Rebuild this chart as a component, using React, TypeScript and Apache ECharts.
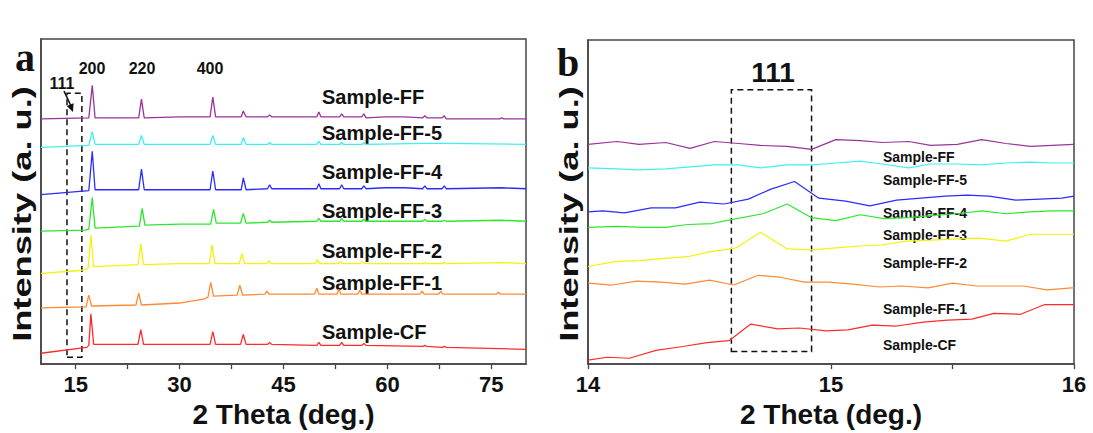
import React, { useEffect, useRef } from "react";
import * as echarts from "echarts";

const FONT = "'Liberation Sans', Arial, sans-serif";

// Panel a: 2 Theta (deg.) vs intensity (arbitrary offset units)
const aLabelValues = [15, 30, 45, 60, 75];
const aTickValues = [15, 22.5, 30, 37.5, 45, 52.5, 60, 67.5, 75];

const aCF = [[10,11],[16.6,17],[16.9,19],[17.2,51],[17.6,20],[24.0,20],[24.4,35],[24.8,20],[30,20],[34.4,20],[34.8,33],[35.2,20],[38.8,20],[39.2,30],[39.6,20],[42.7,20],[43.0,22],[43.3,20],[49.8,19],[50.1,22],[50.4,19],[53.1,19],[53.4,22],[53.7,19],[56.3,19],[56.6,21],[56.9,19],[65.1,18],[65.4,19],[65.7,18],[67.9,17],[68.2,18],[68.5,17],[80,15]];
const aFF1 = [[10,57],[16.5,58],[16.9,70],[17.3,59],[23.7,60],[24.1,72],[24.5,60],[30,62],[33.5,66],[34.1,68],[34.5,83],[34.9,69],[38.3,70],[38.7,80],[39.1,70],[42.3,71],[42.6,74],[42.9,71],[49.5,71],[49.8,77],[50.1,71],[52.7,71],[53.0,76],[53.3,71],[55.7,71],[56.0,75],[56.3,71],[64.7,71],[65.0,74],[65.3,71],[67.4,71],[67.7,74],[68.0,71],[75.7,71],[76.0,73],[76.3,71],[80,71]];
const aFF2 = [[10,92],[15.6,95],[16.8,97],[17.2,131],[17.6,99],[24.0,101],[24.4,122],[24.8,101],[30,102],[34.3,102],[34.7,121],[35.1,102],[38.6,102],[39.0,112],[39.4,102],[42.6,102],[42.9,105],[43.2,102],[49.6,102],[49.9,106],[50.2,102],[52.9,102],[53.2,104],[53.5,102],[56.1,102],[56.4,104],[56.7,102],[65.1,102],[65.4,103],[65.7,102],[67.9,102],[68.2,103],[68.5,102],[76.5,103],[80,102]];
const aFF3 = [[10,135],[16.4,136],[16.9,137],[17.4,169],[17.8,138],[24.2,140],[24.6,158],[25.0,141],[30,142],[34.5,142],[34.9,157],[35.3,143],[38.8,143],[39.2,153],[39.6,143],[42.7,144],[43.0,146],[43.3,144],[49.8,145],[50.1,148],[50.4,145],[53.1,145],[53.4,148],[53.7,145],[56.3,145],[56.6,147],[56.9,145],[65.1,145],[65.4,147],[65.7,145],[67.9,145],[68.2,146],[68.5,145],[76.5,146],[80,145]];
const aFF4 = [[10,172],[16.9,176],[17.4,216],[17.8,177],[24.1,177],[24.5,198],[24.9,177],[30,177],[34.4,177],[34.8,196],[35.2,177],[38.9,177],[39.2,189],[39.6,177],[42.7,178],[43.0,182],[43.3,178],[49.8,178],[50.1,183],[50.4,178],[53.1,178],[53.4,182],[53.7,178],[56.3,178],[56.6,181],[56.9,178],[59.6,179],[62.5,179],[65.1,178],[65.4,181],[65.7,178],[67.9,178],[68.2,181],[68.5,178],[76.5,179],[80,178]];
const aFF5 = [[10,220],[16.9,222],[17.4,236],[17.8,223],[24.1,223],[24.5,232],[24.9,223],[34.4,223],[34.8,232],[35.2,223],[38.9,223],[39.2,230],[39.6,223],[42.7,223],[43.0,225],[43.3,223],[49.8,223],[50.1,226],[50.4,223],[53.1,223],[53.4,225],[53.7,223],[56.3,223],[56.6,225],[56.9,223],[65.4,224],[68.2,224],[80,223]];
const aFF = [[10,249],[16.9,250],[17.4,283],[17.8,250],[24.1,250],[24.5,269],[24.9,250],[30,251],[34.4,251],[34.8,271],[35.2,251],[38.9,251],[39.2,257],[39.6,251],[42.7,251],[43.0,253],[43.3,251],[49.8,251],[50.1,256],[50.4,251],[53.1,251],[53.4,254],[53.7,251],[56.3,251],[56.6,254],[56.9,250],[59.6,251],[62.5,251],[65.1,250],[65.4,252],[65.7,250],[67.9,250],[68.2,252],[68.5,249],[76.2,249],[76.5,250],[76.8,249],[80,249]];

// Panel b: zoom on the (111) reflection
const bLabelValues = [14, 15, 16];
const bCF = [[14.0,4],[14.08,7],[14.17,6],[14.28,14],[14.39,18],[14.49,22],[14.58,24],[14.67,41],[14.78,36],[14.87,37],[14.98,34],[15.07,35],[15.17,40],[15.27,39],[15.38,43],[15.48,45],[15.58,46],[15.67,52],[15.78,51],[15.88,61],[15.99,61],[16.0,61]];
const bFF1 = [[14.0,83],[14.1,81],[14.2,85],[14.3,84],[14.4,82],[14.5,86],[14.6,81],[14.7,91],[14.79,89],[14.89,84],[14.99,84],[15.09,82],[15.2,79],[15.29,80],[15.4,78],[15.5,83],[15.6,80],[15.7,80],[15.79,80],[15.89,76],[15.99,78],[16.0,78]];
const bFF2 = [[14.0,100],[14.11,105],[14.21,106],[14.3,108],[14.41,110],[14.5,115],[14.61,119],[14.71,135],[14.82,118],[14.92,117],[15.02,119],[15.12,121],[15.21,122],[15.31,126],[15.41,127],[15.5,128],[15.61,129],[15.72,126],[15.82,133],[15.91,133],[16.0,133]];
const bFF3 = [[14.0,140],[14.12,141],[14.23,140],[14.32,140],[14.41,143],[14.51,144],[14.59,148],[14.72,154],[14.82,164],[14.92,150],[15.02,147],[15.12,153],[15.22,149],[15.32,150],[15.41,152],[15.52,154],[15.62,157],[15.72,154],[15.82,156],[15.91,157],[16.0,157]];
const bFF4 = [[14.0,156],[14.06,157],[14.15,155],[14.26,160],[14.36,160],[14.46,166],[14.56,164],[14.66,169],[14.75,179],[14.85,187],[14.95,170],[15.06,167],[15.16,162],[15.27,168],[15.37,170],[15.47,172],[15.56,173],[15.65,172],[15.76,168],[15.86,169],[15.95,170],[16.0,172]];
const bFF5 = [[14.0,201],[14.12,200],[14.21,199],[14.32,200],[14.42,202],[14.52,204],[14.62,204],[14.71,201],[14.82,204],[14.92,204],[15.02,206],[15.12,208],[15.21,205],[15.32,201],[15.41,205],[15.52,205],[15.62,204],[15.72,206],[15.82,207],[15.91,206],[16.0,206]];
const bFF = [[14.0,225],[14.12,228],[14.21,225],[14.32,227],[14.42,221],[14.52,228],[14.62,226],[14.71,224],[14.82,223],[14.92,220],[15.02,230],[15.12,229],[15.21,227],[15.32,228],[15.41,224],[15.52,225],[15.62,230],[15.72,226],[15.82,223],[15.91,224],[16.0,225]];

const seriesNames = ["Sample-CF", "Sample-FF-1", "Sample-FF-2", "Sample-FF-3", "Sample-FF-4", "Sample-FF-5", "Sample-FF"];
const seriesColors = ["#ff2b2b", "#ff8a33", "#f2f20c", "#2ee62e", "#2b2bff", "#3ff0f0", "#993399"];
const aData = [aCF, aFF1, aFF2, aFF3, aFF4, aFF5, aFF];
const bData = [bCF, bFF1, bFF2, bFF3, bFF4, bFF5, bFF];

// dashed boxes around the (111) region: [x0, y0, x1, y1] in data units
const aBox = [13.75, 7, 15.9, 275];
const bBox = [14.59, 13, 14.92, 281];

const AXIS_COLOR = "#444";

export default function App() {
  const ref = useRef<HTMLDivElement>(null);
  useEffect(() => {
    if (!ref.current) return;
    const chart = echarts.init(ref.current, undefined, { renderer: "svg" });

    const xAxisCommon = {
      type: "value",
      nameLocation: "middle",
      name: "2 Theta (deg.)",
      nameTextStyle: { fontSize: 28, fontWeight: "bold", color: "#111", fontFamily: FONT },
      axisLine: { show: true, lineStyle: { color: AXIS_COLOR, width: 1.5 } },
      splitLine: { show: false },
    };
    const yAxisCommon = {
      type: "value",
      min: 0,
      axisLabel: { show: false },
      axisTick: { show: false },
      splitLine: { show: false },
      axisLine: { show: true, lineStyle: { color: AXIS_COLOR, width: 1.5 } },
    };

    const series: any[] = [];
    aData.forEach((d, i) => {
      const s: any = {
        type: "line",
        name: seriesNames[i] + " (a)",
        xAxisIndex: 0,
        yAxisIndex: 0,
        data: d,
        showSymbol: false,
        symbol: "none",
        lineStyle: { color: seriesColors[i], width: 1.3 },
        itemStyle: { color: seriesColors[i] },
        clip: true,
      };
      if (i === 0) {
        s.markArea = {
          silent: true,
          itemStyle: { color: "rgba(0,0,0,0)", borderColor: "#111", borderWidth: 1.5, borderType: [6, 4] },
          data: [[{ coord: [aBox[0], aBox[1]] }, { coord: [aBox[2], aBox[3]] }]],
        };
      }
      series.push(s);
    });
    bData.forEach((d, i) => {
      const s: any = {
        type: "line",
        name: seriesNames[i] + " (b)",
        xAxisIndex: 1,
        yAxisIndex: 1,
        data: d,
        showSymbol: false,
        symbol: "none",
        lineStyle: { color: seriesColors[i], width: 1.2 },
        itemStyle: { color: seriesColors[i] },
        clip: true,
      };
      if (i === 0) {
        s.markArea = {
          silent: true,
          itemStyle: { color: "rgba(0,0,0,0)", borderColor: "#111", borderWidth: 1.5, borderType: [6, 4] },
          data: [[{ coord: [bBox[0], bBox[1]] }, { coord: [bBox[2], bBox[3]] }]],
        };
      }
      series.push(s);
    });

    const labelA = (text: string, y: number) => ({
      type: "text",
      x: 322,
      y,
      style: { text, fontSize: 20, fontWeight: "bold", fontFamily: FONT, fill: "#111", textAlign: "left", textVerticalAlign: "middle" },
    });
    const labelB = (text: string, y: number) => ({
      type: "text",
      x: 883,
      y,
      style: { text, fontSize: 14, fontWeight: "bold", fontFamily: FONT, fill: "#111", textAlign: "left", textVerticalAlign: "middle" },
    });
    const peak = (text: string, x: number, y: number, size = 16) => ({
      type: "text",
      x,
      y,
      style: { text, fontSize: size, fontWeight: "bold", fontFamily: FONT, fill: "#111", textAlign: "center", textVerticalAlign: "middle" },
    });
    const yTitle = (x: number) => ({
      type: "text",
      x,
      y: 214,
      rotation: Math.PI / 2,
      scaleX: 1.45,
      style: { text: "Intensity (a. u.)", fontSize: 25, fontWeight: "bold", fontFamily: FONT, fill: "#111", textAlign: "center", textVerticalAlign: "middle" },
    });

    const option: any = {
      animation: false,
      backgroundColor: "#fff",
      grid: [
        { left: 41, top: 39, width: 485, height: 330, show: true, borderColor: AXIS_COLOR, borderWidth: 1.5, backgroundColor: "rgba(0,0,0,0)" },
        { left: 588, top: 40, width: 486, height: 332, show: true, borderColor: AXIS_COLOR, borderWidth: 1.5, backgroundColor: "rgba(0,0,0,0)" },
      ],
      xAxis: [
        {
          ...xAxisCommon,
          gridIndex: 0,
          min: 10,
          max: 80,
          nameGap: 25,
          axisTick: { show: true, inside: false, length: 5, customValues: aTickValues, lineStyle: { color: AXIS_COLOR, width: 1.3 } },
          axisLabel: { customValues: aLabelValues, fontSize: 22, fontWeight: "bold", color: "#111", fontFamily: FONT, margin: 9 },
        },
        {
          ...xAxisCommon,
          gridIndex: 1,
          min: 14,
          max: 16,
          interval: 0.5,
          nameGap: 24,
          axisTick: { show: true, inside: false, length: 5, lineStyle: { color: AXIS_COLOR, width: 1.3 } },
          axisLabel: { customValues: bLabelValues, fontSize: 22, fontWeight: "bold", color: "#111", fontFamily: FONT, margin: 9 },
        },
      ],
      yAxis: [
        { ...yAxisCommon, gridIndex: 0, max: 330 },
        { ...yAxisCommon, gridIndex: 1, max: 332 },
      ],
      series,
      graphic: [
        { type: "text", x: 15, y: 37, style: { text: "a", fontSize: 40, fontWeight: "bold", fontFamily: "'Liberation Serif', 'Times New Roman', serif", fill: "#111", textAlign: "left", textVerticalAlign: "alphabetic" } },
        { type: "text", x: 557, y: 42, style: { text: "b", fontSize: 40, fontWeight: "bold", fontFamily: "'Liberation Serif', 'Times New Roman', serif", fill: "#111", textAlign: "left", textVerticalAlign: "alphabetic" } },
        yTitle(23),
        yTitle(570),
        peak("200", 92, 68),
        peak("220", 142, 68),
        peak("400", 210, 68),
        peak("111", 62, 83),
        peak("111", 773, 72, 28),
        { type: "line", shape: { x1: 64, y1: 91, x2: 71, y2: 106 }, style: { stroke: "#111", lineWidth: 1.6 } },
        { type: "polygon", shape: { points: [[73, 112], [73.6, 103.3], [66.8, 105.9]] }, style: { fill: "#111" } },
        labelA("Sample-FF", 97),
        labelA("Sample-FF-5", 133),
        labelA("Sample-FF-4", 172),
        labelA("Sample-FF-3", 211),
        labelA("Sample-FF-2", 251),
        labelA("Sample-FF-1", 283),
        labelA("Sample-CF", 332),
        labelB("Sample-FF", 157),
        labelB("Sample-FF-5", 180),
        labelB("Sample-FF-4", 213),
        labelB("Sample-FF-3", 235),
        labelB("Sample-FF-2", 263),
        labelB("Sample-FF-1", 309),
        labelB("Sample-CF", 345),
      ],
    };
    chart.setOption(option);
    return () => chart.dispose();
  }, []);
  return <div ref={ref} style={{ position: "fixed", left: 0, top: 0, width: 1093, height: 433, background: "#fff" }} />;
}
